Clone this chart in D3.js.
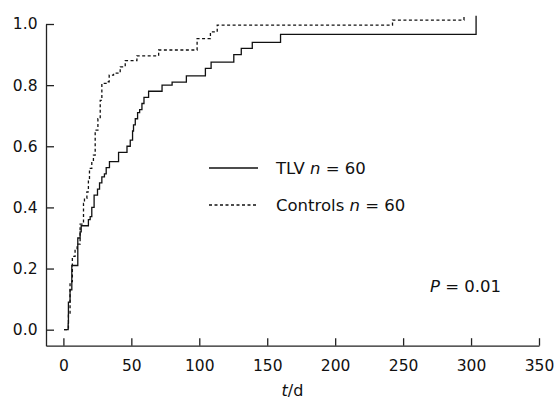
<!DOCTYPE html>
<html>
<head>
<meta charset="utf-8">
<script src="https://cdn.jsdelivr.net/npm/d3@7"></script>
<style>
  body { margin: 0; background: white; }
</style>
</head>
<body>
<div id="container"></div>
<script>
// cumulative curves: [day, proportion] at each step
let tlvSteps = [
  [0.5, 0.0], [3.5, 0.02], [3.7, 0.09], [4.9, 0.13], [6.2, 0.21], [10.6, 0.30],
  [12.3, 0.32], [13.1, 0.34], [18.4, 0.36], [19.7, 0.37], [20.9, 0.40], [22.6, 0.44],
  [25.1, 0.46], [26.6, 0.48], [28.3, 0.50], [30.2, 0.51], [31.5, 0.53], [33.9, 0.55],
  [40.6, 0.58], [46.8, 0.60], [49.2, 0.62], [50.9, 0.65], [51.6, 0.67], [52.9, 0.69],
  [54.6, 0.71], [56.1, 0.72], [57.8, 0.74], [59.3, 0.76], [62.7, 0.78], [72.6, 0.80],
  [80, 0.81], [90.5, 0.83], [104.5, 0.855], [108.7, 0.875], [125.4, 0.90], [130.9, 0.92],
  [139, 0.94], [159.8, 0.966], [303.7, 1.027]
];
let controlSteps = [
  [0.5, 0.0], [3.7, 0.05], [4.9, 0.157], [6.6, 0.24], [8.6, 0.263], [10.1, 0.28],
  [12.3, 0.345], [14.8, 0.413], [15.5, 0.43], [17.3, 0.451], [18.4, 0.49], [19.2, 0.528],
  [20.9, 0.55], [22.1, 0.571], [23.4, 0.653], [25.4, 0.69], [27.1, 0.75], [28.3, 0.806],
  [32, 0.811], [33.7, 0.833], [36.9, 0.839], [41.8, 0.86], [45.5, 0.88], [54.1, 0.896],
  [70.1, 0.915], [98.4, 0.952], [108.2, 0.974], [113.2, 0.996], [242.2, 1.013], [294.8, 1.027]
];
let xTicks = [0, 50, 100, 150, 200, 250, 300, 350];
let yTicks = [0, 0.2, 0.4, 0.6, 0.8, 1.0];
let legendLabels = ["TLV", "Controls"];
let legendN = [60, 60];
let pValue = "0.01";

let w = 557;
let h = 399;
let font = "'DejaVu Sans', Verdana, sans-serif";

let viz = d3.select("#container")
  .append("svg")
    .attr("width", w)
    .attr("height", h)
    .style("background-color", "white")
;

// axis ends are a bit past the data on both sides
let xScale = d3.scaleLinear().domain([-12.8, 350]).range([46, 539]);
let yScale = d3.scaleLinear().domain([-0.0524, 1.0]).range([345.7, 24]);

let xAxis = d3.axisBottom(xScale)
  .tickValues(xTicks)
  .tickSizeInner(-7.5)
  .tickSizeOuter(0)
  .tickPadding(14)
;
let xAxisGroup = viz.append("g").attr("class", "xaxis")
  .attr("transform", "translate(0, 345.7)")
  .call(xAxis)
;

let yAxis = d3.axisLeft(yScale)
  .tickValues(yTicks)
  .tickFormat(d3.format(".1f"))
  .tickSizeInner(-8)
  .tickSizeOuter(0)
  .tickPadding(8.5)
;
let yAxisGroup = viz.append("g").attr("class", "yaxis")
  .attr("transform", "translate(46, 0)")
  .call(yAxis)
;

viz.selectAll(".xaxis path, .yaxis path, .xaxis line, .yaxis line")
  .attr("stroke", "#222")
  .attr("stroke-width", 1.3)
;
viz.selectAll(".xaxis text, .yaxis text")
  .attr("fill", "#111")
  .attr("font-family", font)
  .attr("font-size", "15.5px")
;

// x label  t/d
let xLabel = viz.append("text")
  .attr("x", (xScale.range()[0] + xScale.range()[1]) / 2)
  .attr("y", 395.5)
  .attr("text-anchor", "middle")
  .attr("font-family", font)
  .attr("font-size", "16px")
  .attr("fill", "#111")
;
xLabel.append("tspan").attr("font-style", "italic").text("t");
xLabel.append("tspan").text("/d");

// the two step curves
let stepLine = d3.line()
  .x(function(d){ return xScale(d[0]); })
  .y(function(d){ return yScale(d[1]); })
  .curve(d3.curveStepAfter)
;

viz.append("path")
  .datum(tlvSteps)
  .attr("d", stepLine)
  .attr("fill", "none")
  .attr("stroke", "#111")
  .attr("stroke-width", 1.3)
;
viz.append("path")
  .datum(controlSteps)
  .attr("d", stepLine)
  .attr("fill", "none")
  .attr("stroke", "#111")
  .attr("stroke-width", 1.3)
  .attr("stroke-dasharray", "3,2.5")
;

// legend
let legendY = [168, 205];
let legend = viz.selectAll(".legendItem").data(legendLabels).enter()
  .append("g")
    .attr("class", "legendItem")
    .attr("transform", function(d, i){ return "translate(0, " + legendY[i] + ")"; })
;
legend.append("line")
  .attr("x1", 209)
  .attr("x2", 258)
  .attr("y1", 0)
  .attr("y2", 0)
  .attr("stroke", "#111")
  .attr("stroke-width", 1.3)
  .attr("stroke-dasharray", function(d, i){ return i == 1 ? "3,2.5" : null; })
;
let legendText = legend.append("text")
  .attr("x", 276)
  .attr("y", 0)
  .attr("dy", "0.36em")
  .attr("font-family", font)
  .attr("font-size", "16.5px")
  .attr("fill", "#111")
;
legendText.append("tspan").text(function(d){ return d + " "; });
legendText.append("tspan").attr("font-style", "italic").text("n");
legendText.append("tspan").text(function(d, i){ return " = " + legendN[i]; });

// p value
let pText = viz.append("text")
  .attr("x", 430)
  .attr("y", 292)
  .attr("font-family", font)
  .attr("font-size", "16.5px")
  .attr("fill", "#111")
;
pText.append("tspan").attr("font-style", "italic").text("P");
pText.append("tspan").text(" = " + pValue);
</script>
</body>
</html>
